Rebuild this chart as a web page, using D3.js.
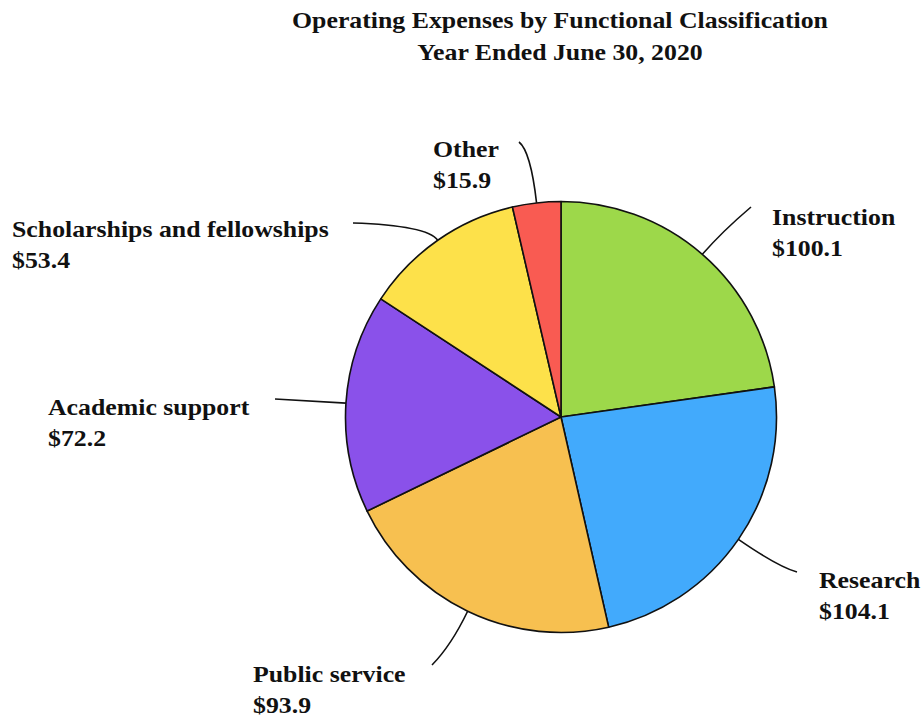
<!DOCTYPE html>
<html>
<head>
<meta charset="utf-8">
<script src="https://cdn.jsdelivr.net/npm/d3@7"></script>
<style>
  html, body { margin: 0; padding: 0; background: #ffffff; }
  svg { display: block; }
  text { font-family: "Liberation Serif", "Times New Roman", serif; font-weight: bold; fill: #111; }
</style>
</head>
<body>
<svg id="chart" width="923" height="717"></svg>
<script>
// Operating expenses by functional classification, FY ending June 30, 2020 ($ millions)
const categories = ["Instruction", "Research", "Public service", "Academic support", "Scholarships and fellowships", "Other"];
const values = [100.1, 104.1, 93.9, 72.2, 53.4, 15.9];
const colors = ["#9dd84a", "#42aafc", "#f7c050", "#8a51ea", "#fde14a", "#f95b52"];
const titleLines = ["Operating Expenses by Functional Classification", "Year Ended June 30, 2020"];

// Label placement: text anchor (left, first baseline), leader end point and
// how far the leader runs outward from the rim before bending toward the label.
const labelLayout = [
  { tx: 772, ty: 225, ex: 751, ey: 207, bend: 30 },
  { tx: 819, ty: 588, ex: 797, ey: 572, bend: 48 },
  { tx: 253, ty: 682, ex: 432, ey: 665, bend: 38 },
  { tx: 48,  ty: 415, ex: 275, ey: 399, bend: 10 },
  { tx: 12,  ty: 237, ex: 353, ey: 223, bend: 18 },
  { tx: 433, ty: 157, ex: 519, ey: 142, bend: 52 }
];

const width = 923, height = 717;
const cx = 561, cy = 417, radius = 215.5;
const fontSize = 24, stretch = 1.075, lineGap = 31;

const svg = d3.select("#chart");

const data = categories.map((name, i) => ({ name, value: values[i], color: colors[i], layout: labelLayout[i] }));

const pie = d3.pie().sort(null).value(d => d.value);
const arc = d3.arc().innerRadius(0).outerRadius(radius);
const arcs = pie(data);

const g = svg.append("g").attr("transform", `translate(${cx},${cy})`);

g.selectAll("path.slice")
  .data(arcs)
  .join("path")
  .attr("class", "slice")
  .attr("d", arc)
  .attr("fill", d => d.data.color)
  .attr("stroke", "#111")
  .attr("stroke-width", 1.6)
  .attr("stroke-linejoin", "round");

// Leader lines: from the slice's mid-angle on the rim, bent toward the label
function leaderPath(d) {
  const a = (d.startAngle + d.endAngle) / 2;
  const ux = Math.sin(a), uy = -Math.cos(a);
  const sx = cx + ux * radius, sy = cy + uy * radius;
  const L = d.data.layout;
  const qx = cx + ux * (radius + L.bend), qy = cy + uy * (radius + L.bend);
  const p = d3.path();
  p.moveTo(sx, sy);
  p.quadraticCurveTo(qx, qy, L.ex, L.ey);
  return p.toString();
}

svg.append("g")
  .selectAll("path")
  .data(arcs)
  .join("path")
  .attr("d", leaderPath)
  .attr("fill", "none")
  .attr("stroke", "#111")
  .attr("stroke-width", 1.6);

// Category labels with dollar amounts
const fmt = d3.format(".1f");
const labels = svg.append("g")
  .selectAll("g")
  .data(arcs)
  .join("g")
  .attr("transform", d => `translate(${d.data.layout.tx},${d.data.layout.ty}) scale(${stretch},1)`);

labels.append("text")
  .attr("font-size", fontSize)
  .text(d => d.data.name);

labels.append("text")
  .attr("font-size", fontSize)
  .attr("y", lineGap)
  .text(d => "$" + fmt(d.data.value));

// Title
const title = svg.append("g");
titleLines.forEach((t, i) => {
  title.append("text")
    .attr("transform", `translate(560,${28 + i * 32}) scale(${stretch},1)`)
    .attr("text-anchor", "middle")
    .attr("font-size", fontSize)
    .text(t);
});
</script>
</body>
</html>
